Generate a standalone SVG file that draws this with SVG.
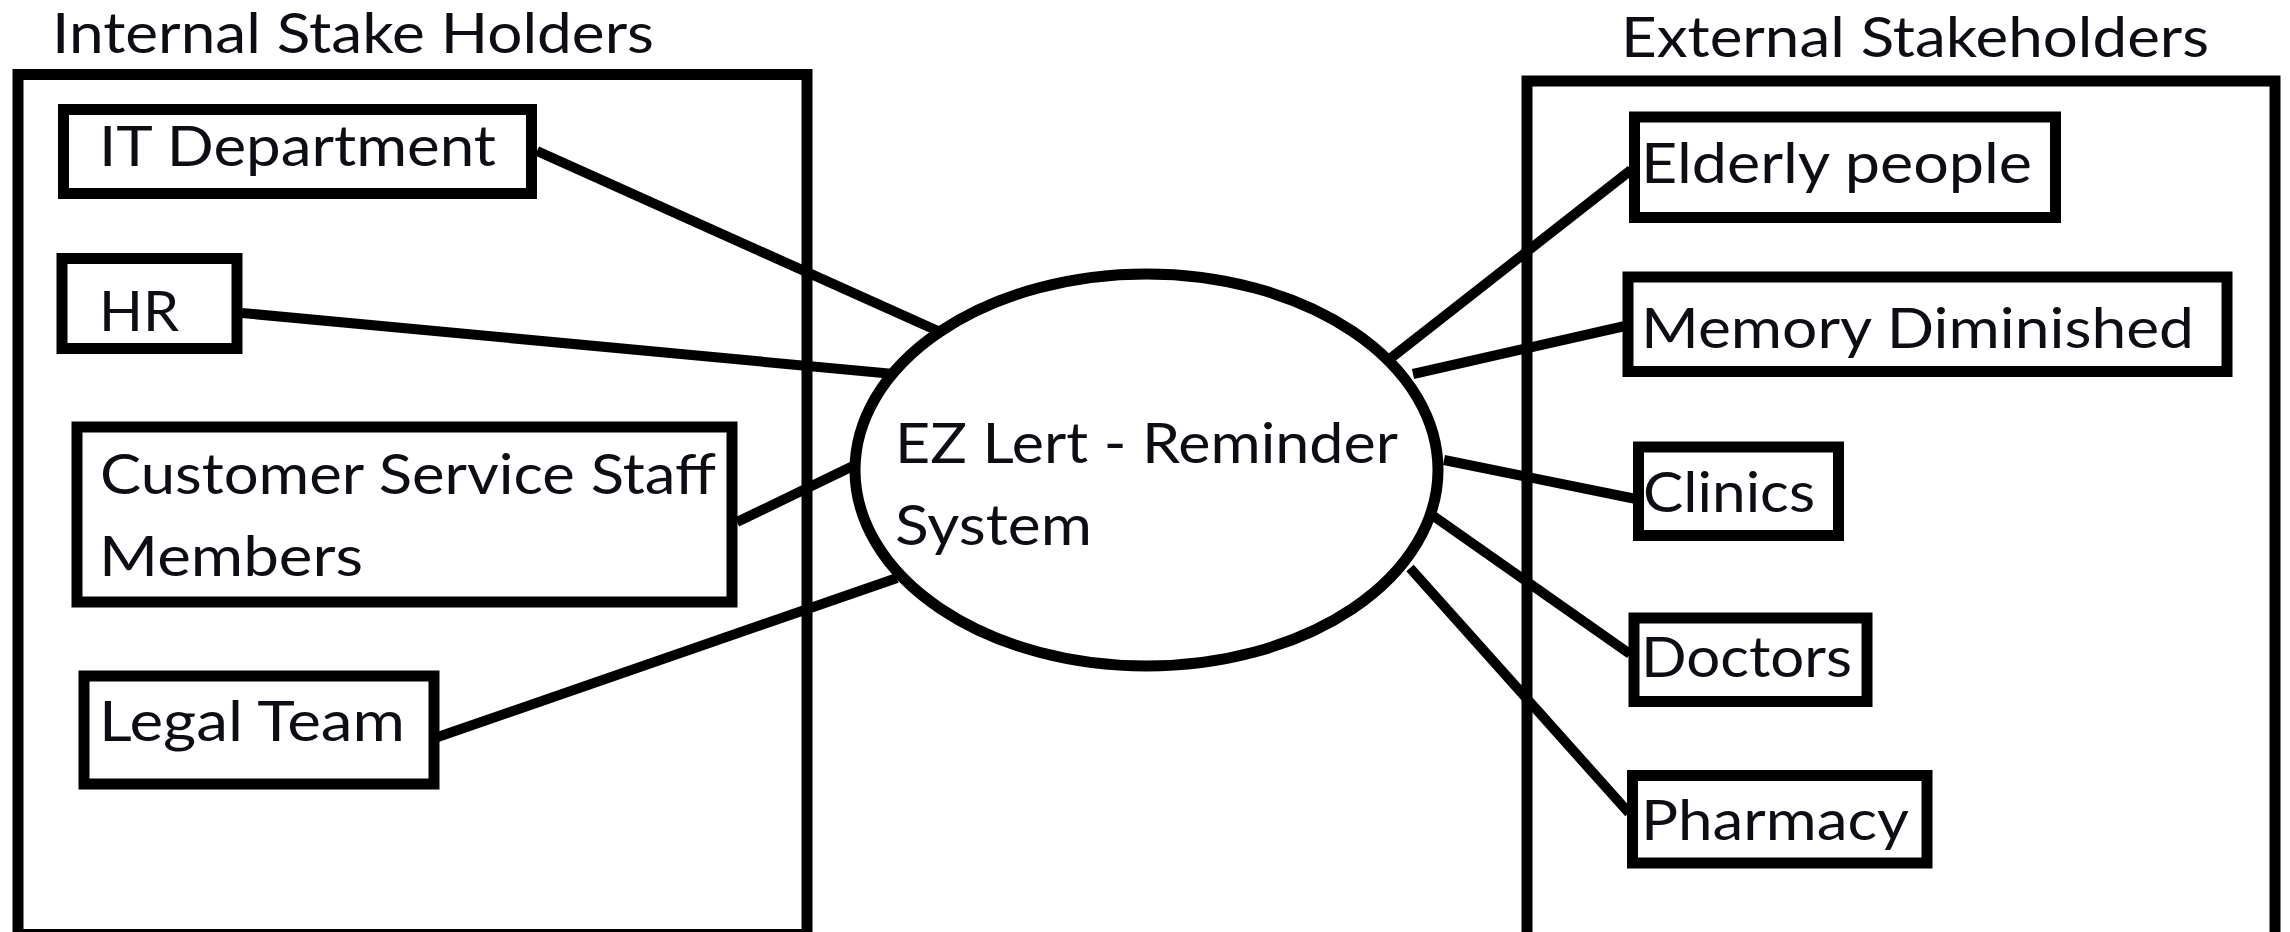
<svg xmlns="http://www.w3.org/2000/svg" width="2290" height="932" viewBox="0 0 2290 932">
  <style>
    .frame { fill: none; stroke: #000; stroke-width: 11; }
    .box { fill: #fff; stroke: #000; stroke-width: 11; }
    .hub { fill: #fff; stroke: #000; stroke-width: 11; }
    .link { stroke: #000; stroke-width: 10; fill: none; }
    .lbl { font-family: Lato, "Open Sans", "Liberation Sans", sans-serif; font-size: 57px; fill: #0d0d14; }
  </style>
  <rect width="2290" height="932" fill="#fff"/>

  <!-- Stakeholder groupings -->
  <g id="internal-group">
    <rect class="frame" x="18" y="74.5" width="789" height="860"/>
    <text class="lbl" x="52" y="53" textLength="602" lengthAdjust="spacingAndGlyphs">Internal Stake Holders</text>
  </g>
  <g id="external-group">
    <rect class="frame" x="1527" y="81" width="748" height="860"/>
    <text class="lbl" x="1621" y="57" textLength="588" lengthAdjust="spacingAndGlyphs">External Stakeholders</text>
  </g>

  <!-- Connectors from the system to each stakeholder -->
  <g id="connectors">
    <line class="link" x1="537" y1="151" x2="938" y2="331"/>
    <line class="link" x1="242" y1="313" x2="894" y2="374"/>
    <line class="link" x1="737" y1="522" x2="853" y2="466"/>
    <line class="link" x1="432" y1="739" x2="897" y2="578"/>
    <line class="link" x1="1631" y1="170" x2="1391" y2="358"/>
    <line class="link" x1="1625" y1="326" x2="1413" y2="374"/>
    <line class="link" x1="1636" y1="499" x2="1444" y2="460"/>
    <line class="link" x1="1630" y1="654" x2="1432" y2="515"/>
    <line class="link" x1="1629" y1="813" x2="1410" y2="568"/>
  </g>

  <!-- Central system -->
  <g id="ez-lert">
    <ellipse class="hub" cx="1146.5" cy="470" rx="291.5" ry="196"/>
    <text class="lbl" x="895" y="463" textLength="503" lengthAdjust="spacingAndGlyphs">EZ Lert - Reminder</text>
    <text class="lbl" x="895" y="545" textLength="197" lengthAdjust="spacingAndGlyphs">System</text>
  </g>

  <!-- Internal stakeholders -->
  <g id="it-department">
    <rect class="box" x="63.5" y="109.5" width="468" height="84"/>
    <text class="lbl" x="99" y="166" textLength="397" lengthAdjust="spacingAndGlyphs">IT Department</text>
  </g>
  <g id="hr">
    <rect class="box" x="62" y="258.5" width="175" height="90"/>
    <text class="lbl" x="99" y="331" textLength="80" lengthAdjust="spacingAndGlyphs">HR</text>
  </g>
  <g id="customer-service">
    <rect class="box" x="77" y="427" width="655" height="175"/>
    <text class="lbl" x="100" y="494" textLength="616" lengthAdjust="spacingAndGlyphs">Customer Service Staff</text>
    <text class="lbl" x="99" y="576" textLength="264" lengthAdjust="spacingAndGlyphs">Members</text>
  </g>
  <g id="legal-team">
    <rect class="box" x="84" y="676" width="350" height="108"/>
    <text class="lbl" x="99" y="741" textLength="306" lengthAdjust="spacingAndGlyphs">Legal Team</text>
  </g>

  <!-- External stakeholders -->
  <g id="elderly-people">
    <rect class="box" x="1634.5" y="117" width="421" height="100.5"/>
    <text class="lbl" x="1641" y="183" textLength="391" lengthAdjust="spacingAndGlyphs">Elderly people</text>
  </g>
  <g id="memory-diminished">
    <rect class="box" x="1628" y="277" width="599" height="94.5"/>
    <text class="lbl" x="1641" y="348" textLength="553" lengthAdjust="spacingAndGlyphs">Memory Diminished</text>
  </g>
  <g id="clinics">
    <rect class="box" x="1638.5" y="447" width="200" height="88.5"/>
    <text class="lbl" x="1643" y="512" textLength="172" lengthAdjust="spacingAndGlyphs">Clinics</text>
  </g>
  <g id="doctors">
    <rect class="box" x="1634" y="618" width="233" height="83.5"/>
    <text class="lbl" x="1641" y="677" textLength="211" lengthAdjust="spacingAndGlyphs">Doctors</text>
  </g>
  <g id="pharmacy">
    <rect class="box" x="1632.5" y="775.5" width="294.5" height="87.5"/>
    <text class="lbl" x="1641" y="840" textLength="268" lengthAdjust="spacingAndGlyphs">Pharmacy</text>
  </g>
</svg>
